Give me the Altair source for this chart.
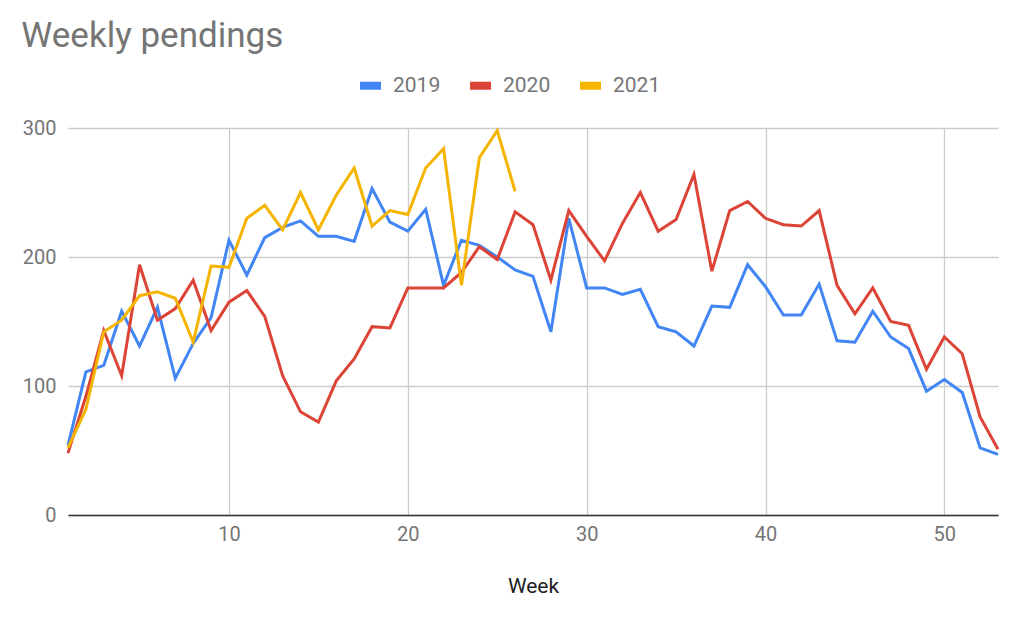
import altair as alt
import pandas as pd

weeks = list(range(1, 54))
series_names = ["2019", "2020", "2021"]
series_colors = ["#4285F4", "#DB4437", "#F4B400"]

v2019 = [54, 111, 116, 158, 131, 161, 106, 133, 153, 213,
         186, 215, 223, 228, 216, 216, 212, 253, 227, 220,
         237, 178, 213, 209, 200, 190, 185, 142, 230, 176,
         176, 171, 175, 146, 142, 131, 162, 161, 194, 177,
         155, 155, 179, 135, 134, 158, 138, 129, 96, 105,
         95, 52, 47]
v2020 = [48, 92, 143, 108, 194, 151, 160, 182, 143, 165,
         174, 154, 108, 80, 72, 104, 121, 146, 145, 176,
         176, 176, 188, 208, 198, 235, 225, 182, 236, 216,
         197, 226, 250, 220, 229, 264, 189, 236, 243, 230,
         225, 224, 236, 178, 156, 176, 150, 147, 113, 138,
         125, 76, 51]
v2021 = [52, 82, 142, 151, 170, 173, 168, 134, 193, 192,
         230, 240, 221, 250, 221, 248, 269, 224, 236, 233,
         269, 284, 178, 277, 298, 251]

x_ticks = [10, 20, 30, 40, 50]
y_ticks = [0, 100, 200, 300]

rows = []
for name, vals in zip(series_names, [v2019, v2020, v2021]):
    for w, v in zip(weeks, vals):
        rows.append({"Week": w, "Year": name, "Value": v})
df = pd.DataFrame(rows)

FONT = "Roboto"

chart = alt.Chart(df).mark_line(strokeWidth=3).encode(
    x=alt.X("Week:Q",
            scale=alt.Scale(domain=[1, 53], nice=False, zero=False),
            axis=alt.Axis(values=x_ticks, title="Week", grid=True, ticks=False,
                          domainColor="#333333", domainWidth=1.5,
                          gridColor="#cccccc", gridWidth=1.3,
                          labelFont=FONT, labelFontSize=20, labelColor="#757575",
                          labelPadding=9, titleFont=FONT, titleFontSize=21,
                          titleColor="#222222", titleFontWeight="normal",
                          titlePadding=31)),
    y=alt.Y("Value:Q",
            scale=alt.Scale(domain=[0, 300], nice=False),
            axis=alt.Axis(values=y_ticks, title=None, grid=True, ticks=False,
                          domain=False, gridColor="#cccccc", gridWidth=1.3,
                          labelFont=FONT, labelFontSize=20, labelColor="#757575",
                          labelPadding=12)),
    color=alt.Color("Year:N",
                    scale=alt.Scale(domain=series_names, range=series_colors),
                    legend=alt.Legend(orient="none", legendX=288, legendY=-57,
                                      direction="horizontal", title=None,
                                      symbolType="stroke", symbolSize=441,
                                      symbolStrokeWidth=8, labelFont=FONT,
                                      labelFontSize=21, labelColor="#757575",
                                      labelOffset=8, columnPadding=13)),
    order="Week:Q",
).properties(
    width=930,
    height=387,
    title=alt.TitleParams("Weekly pendings", anchor="start", font=FONT,
                          fontSize=35, fontWeight="normal", color="#757575",
                          dx=-1, offset=17),
    autosize=alt.AutoSizeParams(type="none"),
    padding={"left": 60, "top": 120, "right": 16, "bottom": 96},
).configure_view(stroke=None)

chart.save("out.html", embed_options={"renderer": "svg", "actions": False})
